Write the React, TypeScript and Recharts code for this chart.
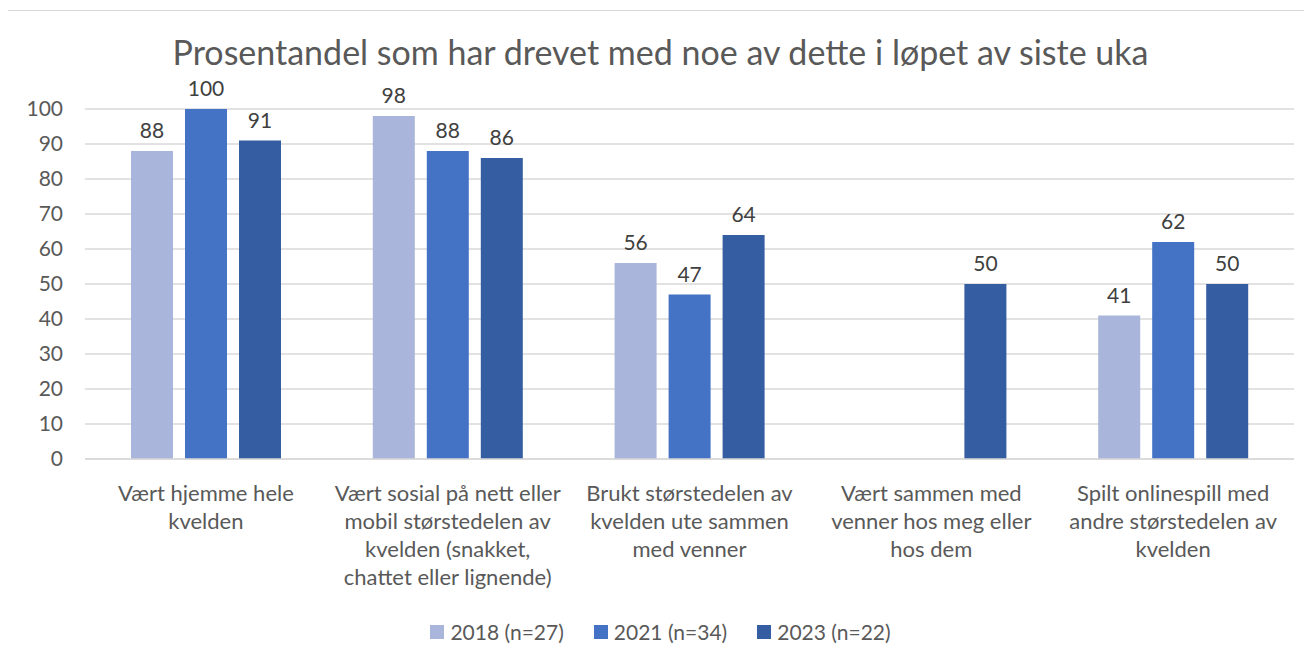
import React from 'react';
import { BarChart, Bar, XAxis, YAxis, CartesianGrid, LabelList } from 'recharts';

const categories = [
  'Vært hjemme hele kvelden',
  'Vært sosial på nett eller mobil størstedelen av kvelden (snakket, chattet eller lignende)',
  'Brukt størstedelen av kvelden ute sammen med venner',
  'Vært sammen med venner hos meg eller hos dem',
  'Spilt onlinespill med andre størstedelen av kvelden',
];

// how each category label is broken into lines, as in the picture
const categoryLines = [
  ['Vært hjemme hele', 'kvelden'],
  ['Vært sosial på nett eller', 'mobil størstedelen av', 'kvelden (snakket,', 'chattet eller lignende)'],
  ['Brukt størstedelen av', 'kvelden ute sammen', 'med venner'],
  ['Vært sammen med', 'venner hos meg eller', 'hos dem'],
  ['Spilt onlinespill med', 'andre størstedelen av', 'kvelden'],
];

const values2018 = [88, 98, 56, null, 41];
const values2021 = [100, 88, 47, null, 62];
const values2023 = [91, 86, 64, 50, 50];

const yTicks = [0, 10, 20, 30, 40, 50, 60, 70, 80, 90, 100];

const seriesNames = ['2018 (n=27)', '2021 (n=34)', '2023 (n=22)'];
const colors = ['#A9B5DA', '#4472C4', '#355DA1'];

const data = categories.map((c, i) => ({
  name: c,
  s2018: values2018[i],
  s2021: values2021[i],
  s2023: values2023[i],
}));

const FONT = 'Lato, "Open Sans", sans-serif';

const CategoryTick = (props: any) => {
  const { x, y, payload } = props;
  const lines = categoryLines[payload.index] || [payload.value];
  return (
    <g transform={`translate(${x},${y})`}>
      {lines.map((l: string, i: number) => (
        <text
          key={i}
          x={0}
          y={34 + i * 28}
          textAnchor="middle"
          fill="#595959"
          fontSize={22}
          fontFamily={FONT}
        >
          {l}
        </text>
      ))}
    </g>
  );
};

const App: React.FC = () => {
  return (
    <div
      style={{
        position: 'relative',
        width: 1305,
        height: 656,
        marginLeft: -1,
        marginTop: 2,
        border: '1px solid #d9d9d9',
        background: '#fff',
        fontFamily: FONT,
      }}
    >
      <div
        style={{
          position: 'absolute',
          top: 24,
          left: 0,
          width: '100%',
          textAlign: 'center',
          fontSize: 34,
          lineHeight: '34px',
          color: '#595959',
        }}
      >
        Prosentandel som har drevet med noe av dette i løpet av siste uka
      </div>
      <div style={{ position: 'absolute', top: 0, left: 0 }}>
        <BarChart
          width={1305}
          height={656}
          data={data}
          margin={{ top: 98, right: 19, left: 0, bottom: 0 }}
          barSize={42}
          barGap={12}
        >
          <CartesianGrid vertical={false} stroke="#d9d9d9" strokeWidth={1.5} />
          <XAxis
            dataKey="name"
            height={208}
            axisLine={{ stroke: '#d9d9d9', strokeWidth: 1.5 }}
            tickLine={false}
            interval={0}
            tick={<CategoryTick />}
          />
          <YAxis
            width={77}
            domain={[0, 100]}
            ticks={yTicks}
            axisLine={false}
            tickLine={false}
            tickSize={0}
            tickMargin={22}
            tick={{ fill: '#595959', fontSize: 21, fontFamily: FONT }}
          />
          {['s2018', 's2021', 's2023'].map((k, i) => (
            <Bar key={k} dataKey={k} name={seriesNames[i]} fill={colors[i]} isAnimationActive={false}>
              <LabelList
                dataKey={k}
                position="top"
                offset={13}
                fill="#404040"
                fontSize={21}
                fontFamily={FONT}
              />
            </Bar>
          ))}
        </BarChart>
      </div>
      <div
        style={{
          position: 'absolute',
          top: 608,
          left: 0,
          width: '100%',
          display: 'flex',
          justifyContent: 'center',
          gap: 30,
          fontSize: 21,
          color: '#595959',
        }}
      >
        {seriesNames.map((n, i) => (
          <div key={n} style={{ display: 'flex', alignItems: 'center' }}>
            <span style={{ width: 14, height: 14, background: colors[i], display: 'inline-block', marginRight: 6 }} />
            <span>{n}</span>
          </div>
        ))}
      </div>
    </div>
  );
};

export default App;
